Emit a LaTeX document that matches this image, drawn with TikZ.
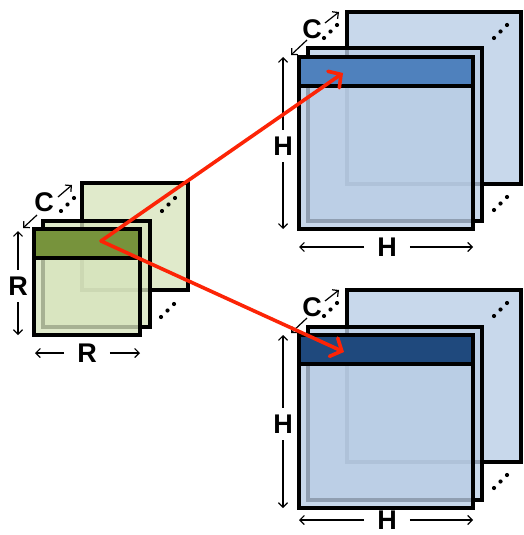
\documentclass[tikz,border=0pt]{standalone}
\usepackage{fontspec}
\setmainfont{Liberation Sans}
\usetikzlibrary{arrows.meta}
\definecolor{lgreen}{RGB}{215,228,189}
\definecolor{dgreen}{RGB}{119,147,60}
\definecolor{lblue}{RGB}{185,205,229}
\definecolor{mblue}{RGB}{79,129,189}
\definecolor{dblue}{RGB}{31,73,125}
\definecolor{redarr}{RGB}{252,36,6}
\tikzset{
  sheet/.style={draw=black, line width=3.2pt, fill opacity=0.78, draw opacity=1},
  bar/.style={draw=black, line width=4.4pt},
  dim/.style={line width=1.2pt, -{Straight Barb[length=4.5pt,width=9pt]}},
  lbl/.style={font=\fontsize{27}{29}\selectfont\bfseries, inner sep=0pt},
  dimlbl/.style={lbl, inner ysep=7pt, inner xsep=6pt},
  dimlblh/.style={lbl, inner xsep=13pt, inner ysep=3pt},
  redarrow/.style={draw=redarr, line width=3.6pt, line cap=round, -{Straight Barb[length=9pt,width=20pt,line cap=round]}}
}
\newcommand\threedots[2]{%
  \fill (#1,#2) circle (2.1);
  \fill ({#1+6.5},{#2-6.5}) circle (2.1);
  \fill ({#1+13},{#2-13}) circle (2.1);}
\begin{document}
\begin{tikzpicture}[x=1pt,y=-1pt]
\useasboundingbox (0,0) rectangle (523,535);
% ---------- left group ----------
\draw[sheet, fill=lgreen] (82,183) rectangle (188,290);
\draw[sheet, fill=lgreen] (43,221) rectangle (150,327);
\draw[sheet, fill=lgreen] (34,229) rectangle (140,335);
\draw[bar, fill=dgreen] (34,229) rectangle (140,258);
\threedots{61}{211}
\threedots{162}{211}
\threedots{161}{317}
\node[lbl] (cL) at (44,202) {C};
\coordinate (cLa) at (23,228);
\coordinate (cLb) at (72,185);
\draw[dim] (37,215) -- (cLa);
\draw[dim] (58,197) -- (cLb);
\node[dimlbl] (rV) at (18,286) {R};
\coordinate (rVt) at (18,231);
\coordinate (rVb) at (18,335);
\draw[dim] (rV) -- (rVt);
\draw[dim] (rV) -- (rVb);
\node[dimlblh] (rH) at (87,353) {R};
\coordinate (rHl) at (35,353);
\coordinate (rHr) at (140,353);
\draw[dim] (rH) -- (rHl);
\draw[dim] (rH) -- (rHr);
% ---------- top right group ----------
\draw[sheet, fill=lblue] (347,12) rectangle (521,184);
\draw[sheet, fill=lblue] (308,48) rectangle (482,221);
\draw[sheet, fill=lblue] (299,57) rectangle (473,229);
\draw[bar, fill=mblue] (299,57) rectangle (473,86);
\threedots{324}{38}
\threedots{494}{38}
\threedots{494}{210}
\node[lbl] (cT) at (312,29) {C};
\coordinate (cTa) at (291,55);
\coordinate (cTb) at (339,12);
\draw[dim] (307,40) -- (cTa);
\draw[dim] (325,23) -- (cTb);
\node[dimlbl] (hTV) at (283,146) {H};
\coordinate (hTVt) at (283,57);
\coordinate (hTVb) at (283,229);
\draw[dim] (hTV) -- (hTVt);
\draw[dim] (hTV) -- (hTVb);
\node[dimlblh] (hTH) at (387,247) {H};
\coordinate (hTHl) at (299,247);
\coordinate (hTHr) at (473,247);
\draw[dim] (hTH) -- (hTHl);
\draw[dim] (hTH) -- (hTHr);
% ---------- bottom right group ----------
\draw[sheet, fill=lblue] (347,290) rectangle (521,462);
\draw[sheet, fill=lblue] (308,327) rectangle (482,500);
\draw[sheet, fill=lblue] (299,335) rectangle (473,508);
\draw[bar, fill=dblue] (299,335) rectangle (473,364);
\threedots{324}{316}
\threedots{494}{316}
\threedots{494}{488}
\node[lbl] (cB) at (312,307) {C};
\coordinate (cBa) at (291,333);
\coordinate (cBb) at (339,290);
\draw[dim] (307,318) -- (cBa);
\draw[dim] (325,301) -- (cBb);
\node[dimlbl] (hBV) at (283,424) {H};
\coordinate (hBVt) at (283,335);
\coordinate (hBVb) at (283,508);
\draw[dim] (hBV) -- (hBVt);
\draw[dim] (hBV) -- (hBVb);
\node[dimlblh] (hBH) at (387,520) {H};
\coordinate (hBHl) at (299,520);
\coordinate (hBHr) at (473,520);
\draw[dim] (hBH) -- (hBHl);
\draw[dim] (hBH) -- (hBHr);
% ---------- red arrows ----------
\coordinate (src) at (101,241);
\coordinate (dstT) at (343,73);
\coordinate (dstB) at (344,352);
\draw[redarrow] (src) -- (dstT);
\draw[redarrow] (src) -- (dstB);
\end{tikzpicture}
\end{document}
